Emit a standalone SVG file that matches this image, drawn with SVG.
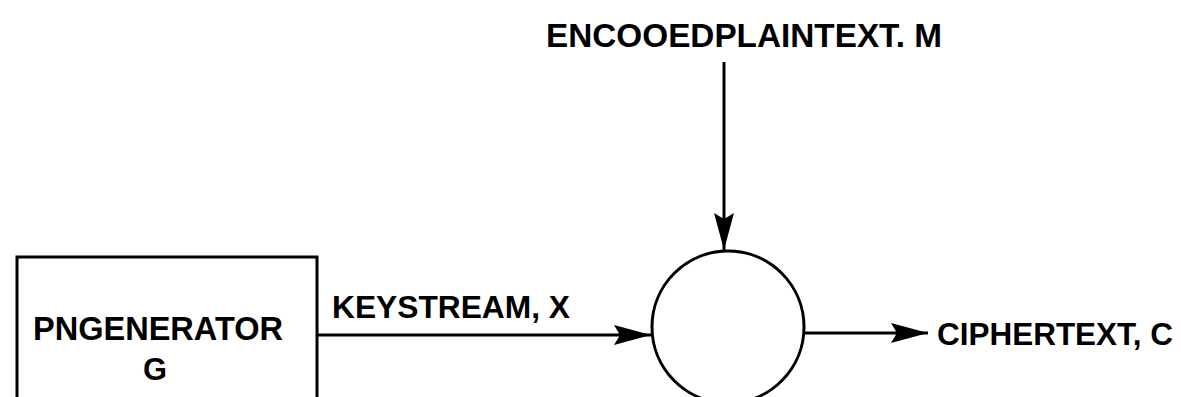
<svg xmlns="http://www.w3.org/2000/svg" width="1181" height="397" viewBox="0 0 1181 397">
<style>
.lbl{font-family:"Liberation Sans",Arial,sans-serif;font-weight:bold;fill:#000}
.edge{stroke:#000;stroke-width:3;fill:none}
.shape{stroke:#000;stroke-width:3;fill:#fff}
</style>
<defs>
<marker id="ah" markerUnits="userSpaceOnUse" markerWidth="38" markerHeight="22" refX="37" refY="11" orient="auto">
<path d="M0,1 L37,11 L0,21 L6,11 Z" fill="#000"/>
</marker>
</defs>
<rect width="1181" height="397" fill="#fff"/>
<g id="generator">
<rect class="shape" x="17" y="257" width="300" height="170"/>
<text class="lbl" x="33" y="340" font-size="34" textLength="250" lengthAdjust="spacingAndGlyphs">PNGENERATOR</text>
<text class="lbl" x="143" y="380" font-size="31" textLength="24" lengthAdjust="spacingAndGlyphs">G</text>
</g>
<g id="combiner">
<circle class="shape" cx="728" cy="327" r="76"/>
</g>
<g id="plaintext">
<text class="lbl" x="546" y="47" font-size="34" textLength="396" lengthAdjust="spacingAndGlyphs">ENCOOEDPLAINTEXT. M</text>
</g>
<g id="ciphertext">
<text class="lbl" x="937" y="345" font-size="32" textLength="236" lengthAdjust="spacingAndGlyphs">CIPHERTEXT, C</text>
</g>
<g id="connectors">
<line class="edge" x1="724" y1="62" x2="724" y2="250" marker-end="url(#ah)"/>
<line class="edge" x1="317" y1="335" x2="651" y2="335" marker-end="url(#ah)"/>
<text class="lbl" x="332" y="318" font-size="32" textLength="238" lengthAdjust="spacingAndGlyphs">KEYSTREAM, X</text>
<line class="edge" x1="805" y1="333" x2="928" y2="333" marker-end="url(#ah)"/>
</g>
</svg>
